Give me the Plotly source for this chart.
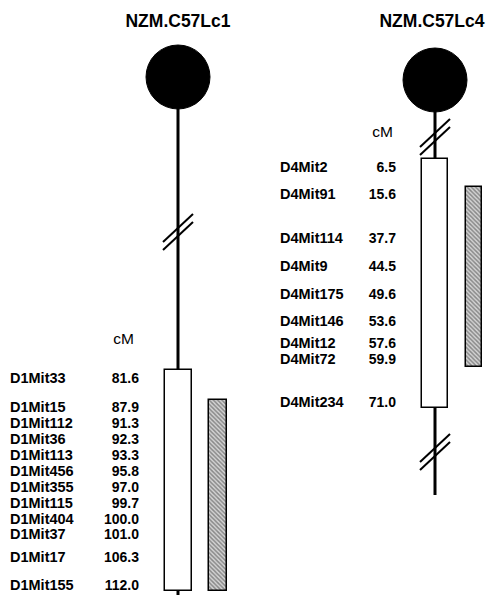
import plotly.graph_objects as go

# ---- data -------------------------------------------------------------
TITLES = ["NZM.C57Lc1", "NZM.C57Lc4"]

CHR1_MARKERS = ["D1Mit33", "D1Mit15", "D1Mit112", "D1Mit36", "D1Mit113", "D1Mit456",
                "D1Mit355", "D1Mit115", "D1Mit404", "D1Mit37", "D1Mit17", "D1Mit155"]
CHR1_CM = [81.6, 87.9, 91.3, 92.3, 93.3, 95.8, 97.0, 99.7, 100.0, 101.0, 106.3, 112.0]
CHR1_INTERVAL = ["D1Mit15", "D1Mit155"]

CHR4_MARKERS = ["D4Mit2", "D4Mit91", "D4Mit114", "D4Mit9", "D4Mit175", "D4Mit146",
                "D4Mit12", "D4Mit72", "D4Mit234"]
CHR4_CM = [6.5, 15.6, 37.7, 44.5, 49.6, 53.6, 57.6, 59.9, 71.0]
CHR4_INTERVAL = ["D4Mit91", "D4Mit72"]

# ---- layout (pixel-like drawing units) -------------------------------
W, H = 489, 595
FONT = "Liberation Sans, Arial, sans-serif"

chroms = [
    dict(title=TITLES[0], markers=CHR1_MARKERS, cm=CHR1_CM, interval=CHR1_INTERVAL,
         cx=178, cy=77, r=32, title_x=178,
         row0=379, gaps=[29, 16, 16, 16, 16, 16, 16, 16, 15, 23, 28],
         name_x=10, val_x=139, cm_label=(134, 340),
         box_w=27, bar_x=218, bar_w=18,
         breaks=[232], tail_end=H + 5),
    dict(title=TITLES[1], markers=CHR4_MARKERS, cm=CHR4_CM, interval=CHR4_INTERVAL,
         cx=435, cy=80, r=32, title_x=432,
         row0=168, gaps=[27, 44, 28, 28, 27, 22, 16, 43],
         name_x=280, val_x=396, cm_label=(393, 133),
         box_w=26, bar_x=474, bar_w=16,
         breaks=[137, 452], tail_end=495),
]

fig = go.Figure()
shapes = []

for c in chroms:
    rows = [c["row0"]]
    for g in c["gaps"]:
        rows.append(rows[-1] + g)
    box_top = rows[0] - 9
    box_bot = rows[-1] + 5
    x0 = c["cx"]

    # stalk from centromere to the end of the chromosome
    shapes.append(dict(type="line", x0=x0, x1=x0, y0=c["cy"], y1=c["tail_end"],
                       line=dict(color="black", width=3), layer="below"))
    # centromere
    shapes.append(dict(type="circle", x0=x0 - c["r"], x1=x0 + c["r"],
                       y0=c["cy"] - c["r"], y1=c["cy"] + c["r"],
                       fillcolor="black", line=dict(color="black", width=1)))
    # break symbols (double slash across the stalk)
    for yb in c["breaks"]:
        for dy in (-4, 4):
            shapes.append(dict(type="line", x0=x0 - 15, x1=x0 + 15,
                               y0=yb + dy + 14, y1=yb + dy - 14,
                               line=dict(color="black", width=2)))

    # mapped segment of the chromosome
    fig.add_trace(go.Bar(x=[x0], y=[box_bot - box_top], base=[box_top], width=[c["box_w"]],
                         marker=dict(color="white", line=dict(color="black", width=1.5)),
                         hoverinfo="skip", showlegend=False))

    # congenic interval bar
    i0 = c["markers"].index(c["interval"][0])
    i1 = c["markers"].index(c["interval"][1])
    b_top = rows[i0] - 8
    b_bot = min(rows[i1] + 7, box_bot)
    fig.add_trace(go.Bar(x=[c["bar_x"]], y=[b_bot - b_top], base=[b_top], width=[c["bar_w"]],
                         marker=dict(color="#d0d0d0",
                                     line=dict(color="black", width=1.5),
                                     pattern=dict(shape="\\", size=3, solidity=0.5,
                                                  fgcolor="#3c3c3c", bgcolor="#d4d4d4")),
                         hoverinfo="skip", showlegend=False))

    # marker names and positions in cM
    fig.add_trace(go.Scatter(x=[c["name_x"]] * len(rows), y=rows, mode="text",
                             text=c["markers"], textposition="middle right",
                             textfont=dict(family=FONT, size=14.5, color="black", weight="bold"),
                             hoverinfo="skip", showlegend=False))
    fig.add_trace(go.Scatter(x=[c["val_x"]] * len(rows), y=rows, mode="text",
                             text=[f"{v:.1f}" for v in c["cm"]], textposition="middle left",
                             textfont=dict(family=FONT, size=14, color="black", weight="bold"),
                             hoverinfo="skip", showlegend=False))
    fig.add_trace(go.Scatter(x=[c["cm_label"][0]], y=[c["cm_label"][1]], mode="text",
                             text=["cM"], textposition="middle left",
                             textfont=dict(family=FONT, size=15.5, color="black"),
                             hoverinfo="skip", showlegend=False))
    # strain title
    fig.add_trace(go.Scatter(x=[c["title_x"]], y=[23], mode="text",
                             text=[c["title"]], textposition="middle center",
                             textfont=dict(family=FONT, size=17.5, color="black", weight="bold"),
                             hoverinfo="skip", showlegend=False))

fig.update_layout(
    width=W, height=H,
    margin=dict(l=0, r=0, t=0, b=0),
    paper_bgcolor="white", plot_bgcolor="white",
    barmode="overlay", bargap=0,
    shapes=shapes,
    xaxis=dict(range=[0, W], visible=False, fixedrange=True),
    yaxis=dict(range=[H, 0], visible=False, fixedrange=True),
    showlegend=False,
)

fig.write_html("out.html", config=dict(displayModeBar=False))
